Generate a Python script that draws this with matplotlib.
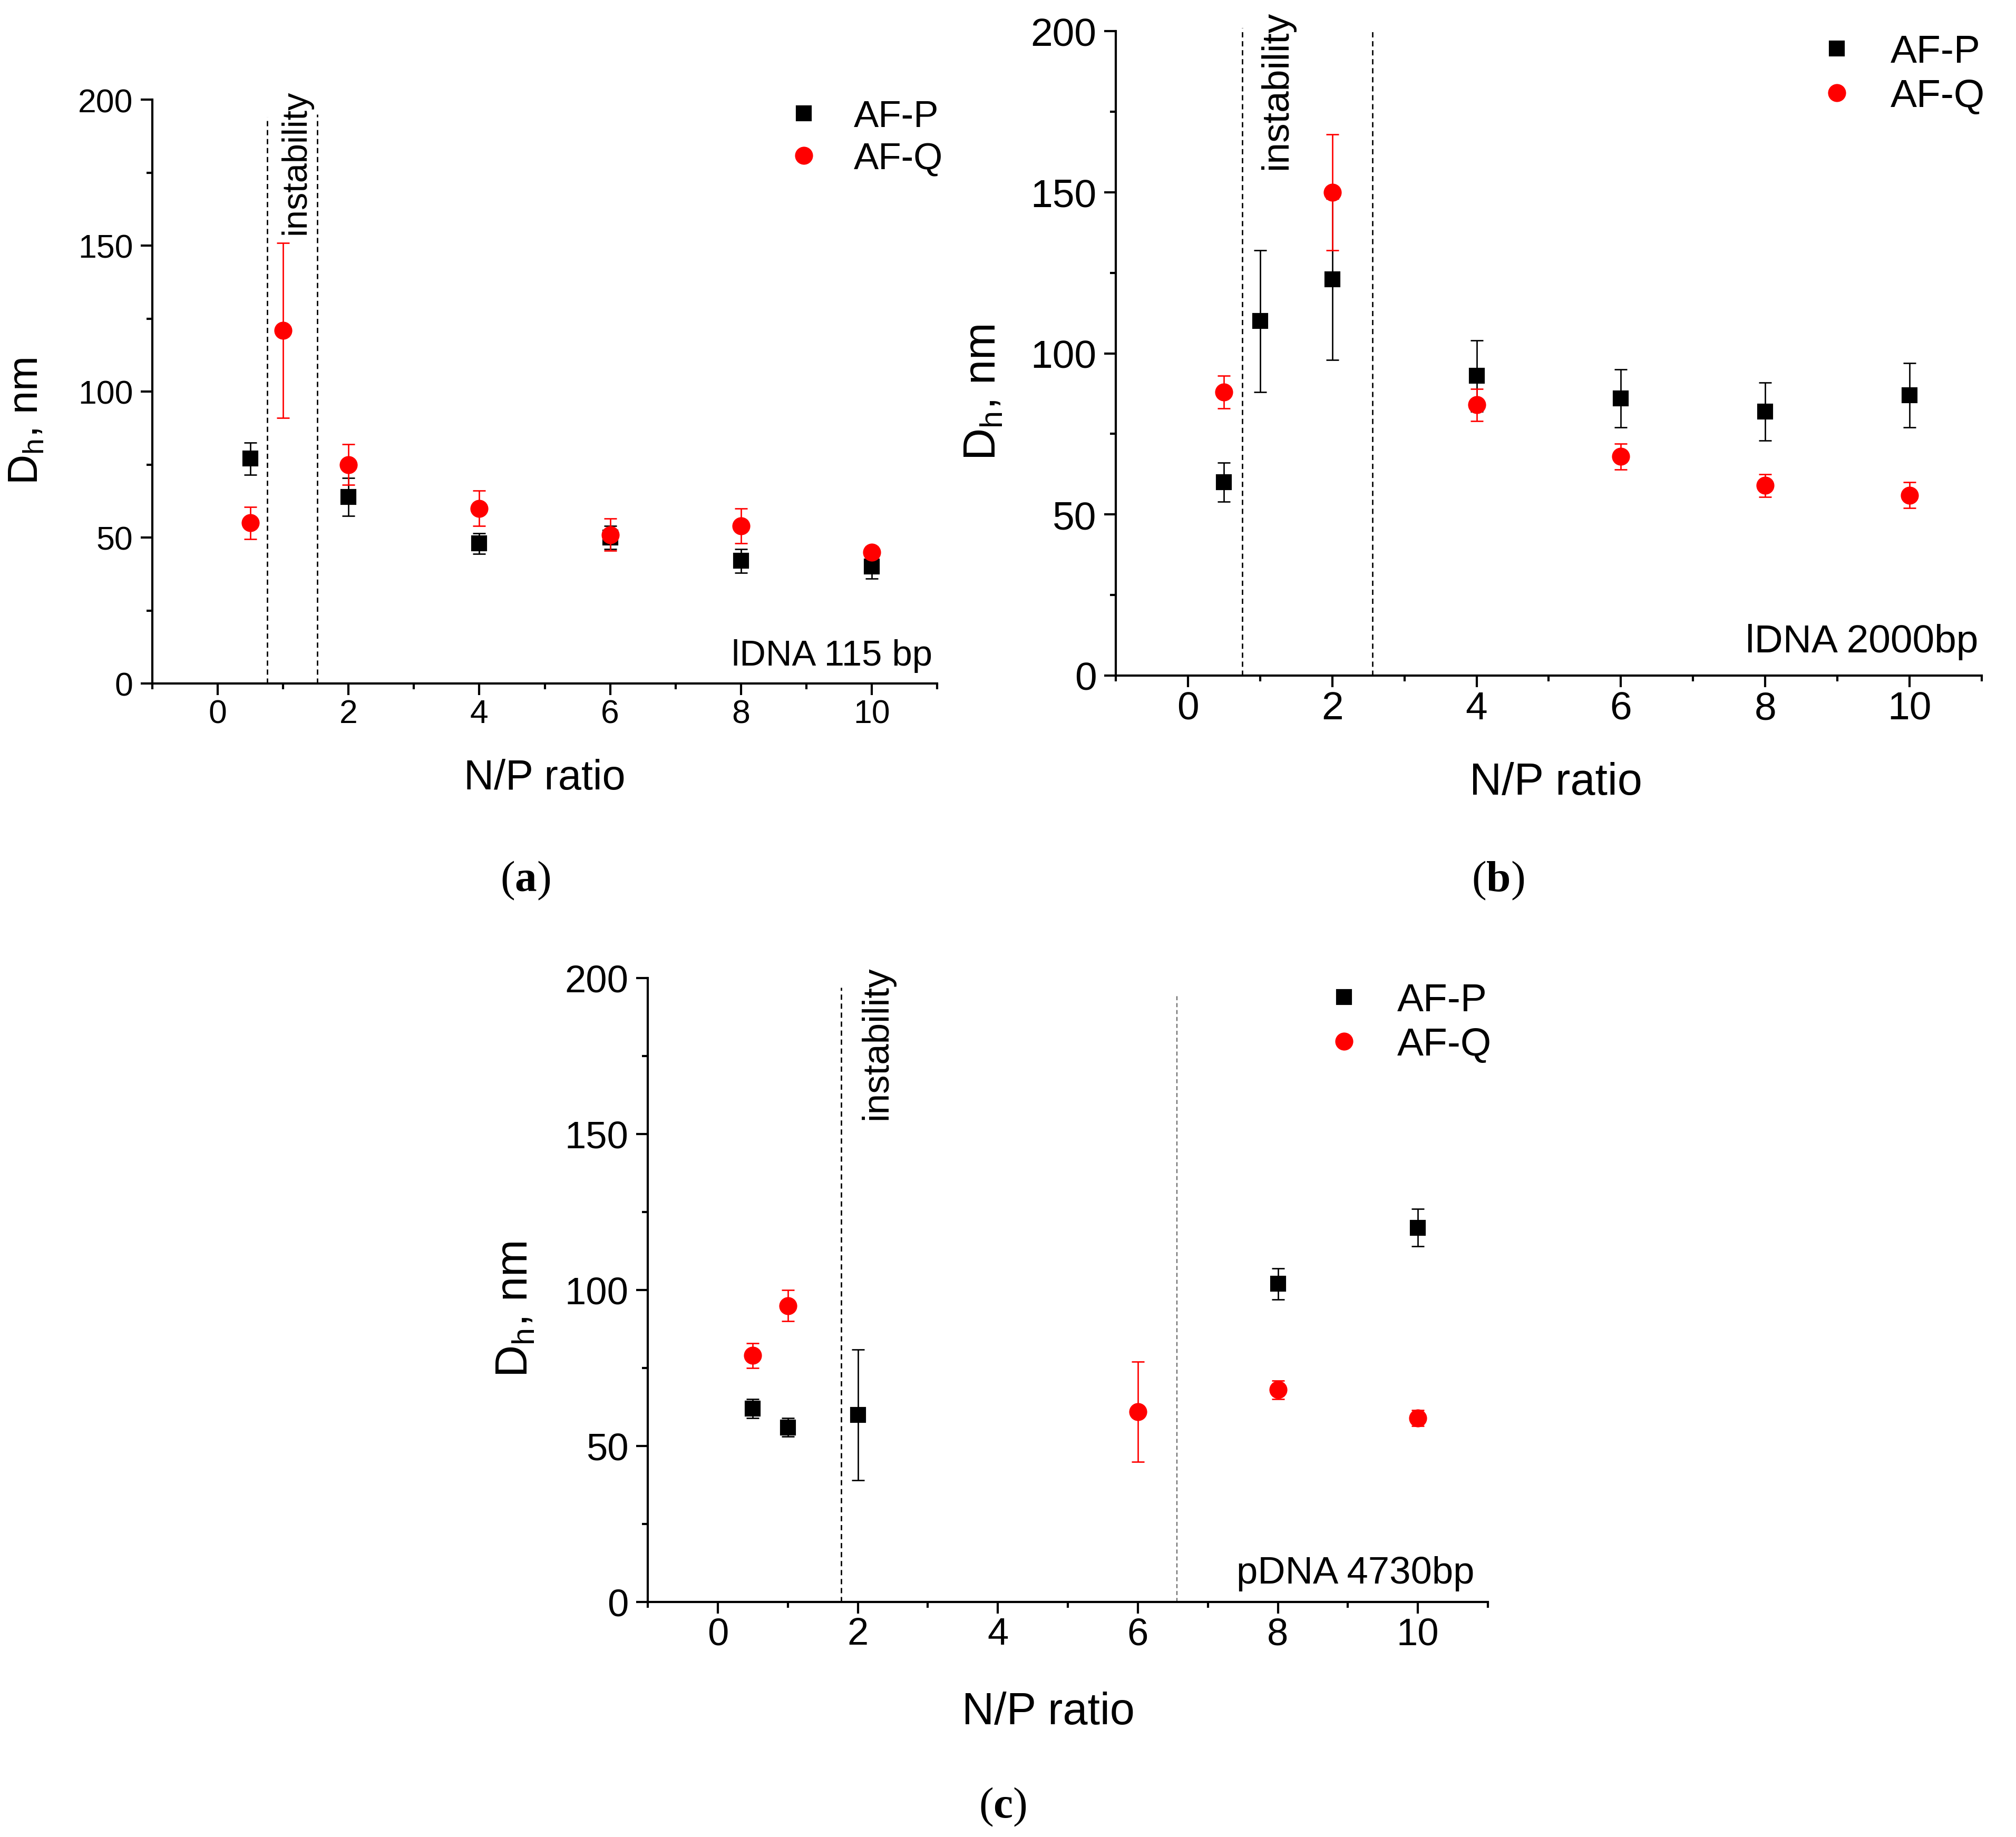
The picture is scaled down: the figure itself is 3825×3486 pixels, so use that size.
import matplotlib.pyplot as plt
from matplotlib.ticker import MultipleLocator

plt.rcParams['font.family'] = ['Liberation Sans', 'DejaVu Sans']
plt.rcParams['mathtext.fontset'] = 'custom'
plt.rcParams['mathtext.rm'] = 'Liberation Sans'
plt.rcParams['mathtext.bf'] = 'Liberation Serif:bold'

# (a) lDNA 115 bp
a_p_x = [0.5, 2, 4, 6, 8, 10]
a_p_y = [77, 64, 48, 50, 42, 40]
a_p_err = [5.5, 6.5, 3.5, 4, 4, 4]
a_q_x = [0.5, 1, 2, 4, 6, 8, 10]
a_q_y = [55, 121, 75, 60, 51, 54, 45]
a_q_err = [5.5, 30, 7, 6, 5.5, 6, 2]

# (b) lDNA 2000bp
b_p_x = [0.5, 1, 2, 4, 6, 8, 10]
b_p_y = [60, 110, 123, 93, 86, 82, 87]
b_p_err = [6, 22, 25, 11, 9, 9, 10]
b_q_x = [0.5, 2, 4, 6, 8, 10]
b_q_y = [88, 150, 84, 68, 59, 56]
b_q_err = [5, 18, 5, 4, 3.5, 4]

# (c) pDNA 4730bp
c_p_x = [0.5, 1, 2, 8, 10]
c_p_y = [62, 56, 60, 102, 120]
c_p_err = [3, 3, 21, 5, 6]
c_q_x = [0.5, 1, 6, 8, 10]
c_q_y = [79, 95, 61, 68, 59]
c_q_err = [4, 5, 16, 3, 2.5]

fig = plt.figure(figsize=(12.75, 11.623), dpi=300)


def panel(rect, px, py, perr, qx, qy, qerr, vlines, vtop, vstyle, instab, note, caption, cap_pos,
          fs, leg_anchor, xlab_pos, ylab_pos):
    tick_fs, lab_fs, leg_fs, note_fs, inst_fs = fs
    ax = fig.add_axes(rect)
    ax.errorbar(px, py, yerr=perr, fmt='none', ecolor='black', elinewidth=0.65,
                capsize=2.9, capthick=0.65, zorder=3)
    ax.plot(px, py, 's', color='black', ms=6.3, ls='none', label='AF-P', zorder=4)
    ax.errorbar(qx, qy, yerr=qerr, fmt='none', ecolor='red', elinewidth=0.65,
                capsize=2.9, capthick=0.65, zorder=5)
    ax.plot(qx, qy, 'o', color='red', ms=7.2, ls='none', label='AF-Q', zorder=6)

    # boundaries of the unstable region
    for xv, top, (col, lw) in zip(vlines, vtop, vstyle):
        ax.plot([xv, xv], [0, top], ls=(0, (3.7, 2.6)), color=col, lw=lw, clip_on=False, zorder=2)
    ax.text(instab[0], instab[1], 'instability', rotation=90, ha='center', va='top',
            fontsize=inst_fs, clip_on=False)

    ax.set_xlim(-1, 11)
    ax.set_ylim(0, 200)
    ax.xaxis.set_major_locator(MultipleLocator(2))
    ax.xaxis.set_minor_locator(MultipleLocator(1))
    ax.yaxis.set_major_locator(MultipleLocator(50))
    ax.yaxis.set_minor_locator(MultipleLocator(25))
    ax.spines['top'].set_visible(False)
    ax.spines['right'].set_visible(False)
    for s in ['left', 'bottom']:
        ax.spines[s].set_linewidth(1.0)
    ax.tick_params(which='major', direction='out', length=5.3, width=1.0, labelsize=tick_fs)
    ax.tick_params(which='minor', direction='out', length=2.7, width=1.0)
    ax.tick_params(axis='x', which='major', pad=1.5)
    ax.tick_params(axis='y', which='major', pad=3.5)

    ax.set_xlabel('N/P ratio', fontsize=lab_fs)
    ax.set_ylabel(r'D$_\mathregular{h}$, nm', fontsize=lab_fs)
    ax.xaxis.set_label_coords(*xlab_pos)
    ax.yaxis.set_label_coords(*ylab_pos)

    ax.legend(loc='upper left', bbox_to_anchor=leg_anchor, frameon=False,
              fontsize=leg_fs, handlelength=1.0, handletextpad=0.85, labelspacing=0.2,
              borderaxespad=0, borderpad=0)
    ax.text(note[1], note[2], note[0], transform=ax.transAxes, ha='right', va='baseline',
            fontsize=note_fs)
    fig.text(cap_pos[0], cap_pos[1], r'($\mathbf{%s}$)' % caption, ha='center', va='center',
             family='Liberation Serif', fontsize=20)
    return ax


panel([0.07556, 0.62776, 0.38928, 0.31775], a_p_x, a_p_y, a_p_err, a_q_x, a_q_y, a_q_err,
      [0.757, 1.52], [194, 195], [('black', 0.65), ('black', 0.65)], (1.2, 203.5),
      ('lDNA 115 bp', 0.994, 0.032), 'a', (0.2607, 0.5208),
      (15, 19, 17, 16.5, 16), (0.806, 1.0), (0.5, -0.128), (-0.135, 0.45))
panel([0.55346, 0.63206, 0.42954, 0.35073], b_p_x, b_p_y, b_p_err, b_q_x, b_q_y, b_q_err,
      [0.75, 2.56], [201, 200], [('black', 0.65), ('black', 0.65)], (1.23, 206.5),
      ('lDNA 2000bp', 0.996, 0.037), 'b', (0.743, 0.5208),
      (18, 20.3, 18, 18, 17.6), (0.81, 0.996), (0.508, -0.133), (-0.128, 0.44))
panel([0.32131, 0.12790, 0.41673, 0.33955], c_p_x, c_p_y, c_p_err, c_q_x, c_q_y, c_q_err,
      [1.76, 6.56], [197, 195], [('black', 0.65), ('0.4', 0.5)], (2.28, 204),
      ('pDNA 4730bp', 0.984, 0.030), 'c', (0.4975, 0.0166),
      (17.4, 20.3, 18, 17.4, 17), (0.805, 0.993), (0.477, -0.143), (-0.132, 0.47))

fig.savefig('out.png', dpi=300)
